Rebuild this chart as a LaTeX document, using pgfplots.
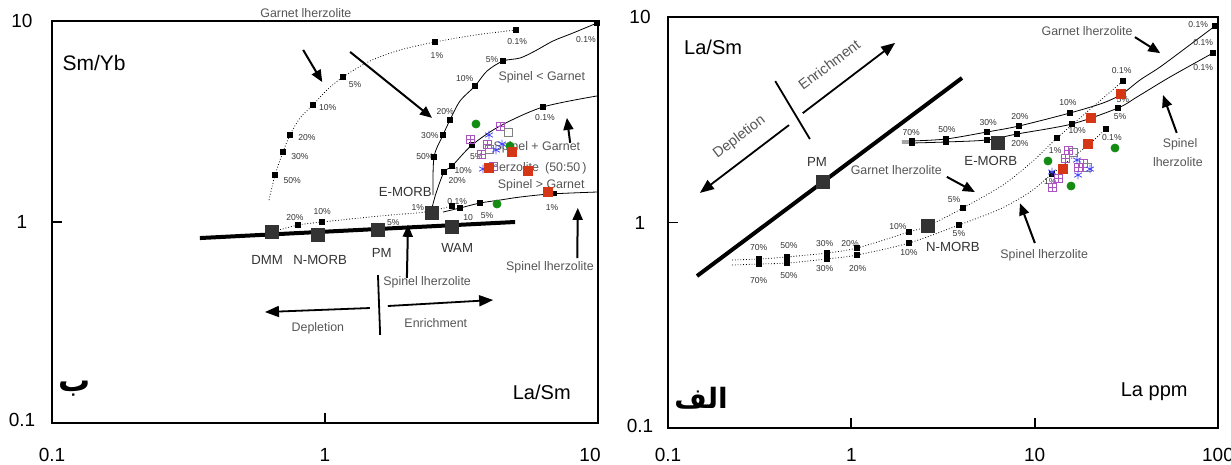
\documentclass[border=0pt]{standalone}
\usepackage{pgfplots}
\pgfplotsset{compat=1.18}
\usetikzlibrary{arrows.meta}
\usepackage{fontspec}
\setmainfont{Liberation Sans}
\newfontfamily\arabicfont[Script=Arabic]{DejaVu Sans}
\TeXXeTstate=1
\definecolor{redsq}{RGB}{212,54,22}
\definecolor{greendot}{RGB}{20,140,20}
\definecolor{purp}{RGB}{170,85,190}
\definecolor{blueast}{RGB}{70,70,255}
\definecolor{labgray}{RGB}{85,85,85}
\pgfplotsset{
 curvemk/.style={only marks, mark=square*, mark size=1.1pt, black},
 bigsq/.style={only marks, mark=square*, mark size=3.3pt, black!80, mark options={fill=black!80}},
 reds/.style={only marks, mark=square*, mark size=2.4pt, redsq, mark options={fill=redsq}},
 greens/.style={only marks, mark=*, mark size=2pt, greendot, mark options={fill=greendot}},
 purps/.style={only marks, mark=square, mark size=2pt, purp},
 purpx/.style={only marks, mark=+, mark size=2pt, purp},
 blues/.style={only marks, mark=asterisk, mark size=2.2pt, blueast},
 grays/.style={only marks, mark=square, mark size=2pt, gray},
}
\tikzset{
 lab/.style={font=\fontsize{6.2}{7}\selectfont, text=labgray, inner sep=0pt},
 mlab/.style={font=\fontsize{6.6}{8}\selectfont, text=black!80, inner sep=0pt},
 pct/.style={font=\fontsize{4.3}{5}\selectfont, text=black!80, inner sep=0pt},
 bigl/.style={font=\fontsize{10}{12}\selectfont, inner sep=0pt},
 arr/.style={line width=1pt, -{Triangle[length=6pt,width=5pt]}},
 arrb/.style={line width=0.9pt, -{Triangle[length=7pt,width=5.5pt]}},
}
\begin{document}
\begin{tikzpicture}
\path[use as bounding box] (0,0) rectangle (615.5pt,232.5pt);
% ---------------- LEFT ----------------
\begin{axis}[scale only axis, xmode=log, ymode=log, clip=false,
 at={(26pt,21pt)}, anchor=south west, width=273pt, height=201pt,
 axis line style={line width=0.9pt},
 tick align=inside, tick pos=left, major tick length=5pt,
 every tick/.style={line width=0.9pt, black},
 xminorticks=false, yminorticks=false,
 ymin=0.1, ymax=10, ytick={0.1,1,10}, yticklabels={\raisebox{3pt}{0.1},1,\raisebox{-2pt}{10}},
 xmin=0.1, xmax=10, xtick={0.1,1,10}, xticklabels={0.1,1,\hspace*{-8pt}10},
 tick label style={font=\fontsize{9.5}{11}\selectfont},
 xticklabel style={anchor=center, yshift=-16pt},
 yticklabel style={anchor=center, xshift=-15pt}]
\addplot[line width=2pt, black] coordinates {(0.348,0.832) (4.97,1.0)};
% garnet lherzolite dotted
\addplot[densely dotted, black, smooth] coordinates {(0.624,1.286) (0.656,1.713) (0.702,2.230) (0.744,2.710) (0.810,3.291) (0.904,3.821) (1.017,4.537) (1.164,5.265) (1.462,6.324) (1.883,7.173) (2.528,7.862) (3.544,8.516) (5.008,9.020)};
\addplot[curvemk] coordinates {(0.656,1.713) (0.702,2.230) (0.744,2.710) (0.904,3.821) (1.164,5.265) (2.528,7.862) (5.008,9.020)};
% spinel lherzolite dotted
\addplot[densely dotted, black, smooth] coordinates {(0.640,0.892) (0.796,0.966) (0.975,1.0) (1.343,1.047) (1.73,1.083) (2.324,1.121) (2.919,1.201)};
\addplot[curvemk] coordinates {(0.796,0.966) (0.975,1.0) (2.919,1.201)};
% spinel > garnet
\addplot[black, smooth] coordinates {(2.706,1.121) (3.123,1.174) (3.697,1.243) (4.375,1.286) (5.179,1.331) (6.671,1.378) (9.916,1.410)};
\addplot[curvemk] coordinates {(3.123,1.174) (3.697,1.243) (6.90,1.386)};
% spinel + garnet
\addplot[black, smooth] coordinates {(2.465,1.174) (2.552,1.394) (2.729,1.773) (2.919,1.899) (3.456,2.416) (4.375,3.003) (6.288,3.734) (9.916,4.237)};
\addplot[curvemk] coordinates {(2.729,1.773) (2.919,1.899) (3.456,2.416) (6.288,3.734)};
% spinel < garnet
\addplot[black, smooth] coordinates {(2.486,1.362) (2.508,2.106) (2.706,2.710) (2.870,3.218) (3.123,4.0) (3.544,4.750) (3.922,5.639) (4.487,6.324) (5.179,6.544) (5.878,7.091) (6.842,7.953) (8.098,8.716) (9.916,9.772)};
\addplot[curvemk] coordinates {(2.508,2.106) (2.706,2.710) (2.870,3.218) (3.544,4.750) (4.487,6.324) (9.916,9.772)};
% reservoirs
\addplot[bigsq] coordinates {(0.64,0.892) (0.943,0.862) (1.56,0.912) (2.92,0.944) (2.47,1.11)};
% samples
\addplot[greens] coordinates {(3.573,3.073) (4.761,2.388) (4.266,1.229)};
\addplot[purps] coordinates {(4.375,3.003) (3.397,2.588) (3.922,2.443) (3.728,2.180) (4.125,1.899)};
\addplot[purpx] coordinates {(4.375,3.003) (3.397,2.588) (3.922,2.443) (3.728,2.180) (4.125,1.899)};
\addplot[grays] coordinates {(4.681,2.804) (4.0,2.3)};
\addplot[blues] coordinates {(3.988,2.710) (4.23,2.281) (3.792,1.835) (4.45,2.443)};
\addplot[reds] coordinates {(4.842,2.230) (3.988,1.857) (5.541,1.794) (6.559,1.410)};
% texts
\node[inner sep=0pt, font=\fontsize{10.5}{12}\selectfont] at (rel axis cs:0.077,0.896) {Sm/Yb};
\node[bigl] at (rel axis cs:0.897,0.077) {La/Sm};
\node[font=\fontsize{16}{18}\selectfont\arabicfont\bfseries, inner sep=0pt] at (rel axis cs:0.042,0.085) {\beginR ب\endR};
\node[lab] at (rel axis cs:0.465,1.02) {Garnet lherzolite};
\node[lab] at (rel axis cs:0.897,0.861) {Spinel < Garnet};
\node[lab] at (rel axis cs:0.888,0.687) {Spinel + Garnet};
\node[lab] at (rel axis cs:0.890,0.634) {lherzolite\enspace(50:50\,)};
\node[lab] at (rel axis cs:0.896,0.592) {Spinel > Garnet};
\node[mlab] at (rel axis cs:0.647,0.575) {E-MORB};
\node[mlab] at (rel axis cs:0.394,0.405) {DMM};
\node[mlab] at (rel axis cs:0.491,0.405) {N-MORB};
\node[mlab] at (rel axis cs:0.604,0.423) {PM};
\node[mlab] at (rel axis cs:0.742,0.435) {WAM};
\node[lab] at (rel axis cs:0.687,0.351) {Spinel lherzolite};
\node[lab] at (rel axis cs:0.912,0.388) {Spinel lherzolite};
\node[lab] at (rel axis cs:0.487,0.236) {Depletion};
\node[lab] at (rel axis cs:0.703,0.249) {Enrichment};
% percentages
\node[pct] at (rel axis cs:0.440,0.604) {50\%};
\node[pct] at (rel axis cs:0.454,0.664) {30\%};
\node[pct] at (rel axis cs:0.467,0.709) {20\%};
\node[pct] at (rel axis cs:0.505,0.784) {10\%};
\node[pct] at (rel axis cs:0.555,0.841) {5\%};
\node[pct] at (rel axis cs:0.705,0.913) {1\%};
\node[pct] at (rel axis cs:0.852,0.948) {0.1\%};
\node[pct] at (rel axis cs:0.445,0.510) {20\%};
\node[pct] at (rel axis cs:0.495,0.525) {10\%};
\node[pct] at (rel axis cs:0.625,0.498) {5\%};
\node[pct] at (rel axis cs:0.670,0.537) {1\%};
\node[pct] at (rel axis cs:0.742,0.552) {0.1\%};
\node[pct] at (rel axis cs:0.762,0.510) {10};
\node[pct] at (rel axis cs:0.797,0.517) {5\%};
\node[pct] at (rel axis cs:0.916,0.535) {1\%};
\node[pct] at (rel axis cs:0.742,0.602) {20\%};
\node[pct] at (rel axis cs:0.753,0.627) {10\%};
\node[pct] at (rel axis cs:0.777,0.662) {5\%};
\node[pct] at (rel axis cs:0.903,0.759) {0.1\%};
\node[pct] at (rel axis cs:0.683,0.662) {50\%};
\node[pct] at (rel axis cs:0.692,0.716) {30\%};
\node[pct] at (rel axis cs:0.720,0.774) {20\%};
\node[pct] at (rel axis cs:0.756,0.856) {10\%};
\node[pct] at (rel axis cs:0.806,0.903) {5\%};
\node[pct] at (rel axis cs:0.978,0.953) {0.1\%};
% arrows
\draw[arr] (rel axis cs:0.460,0.928) -- (rel axis cs:0.495,0.848);
\draw[arr] (rel axis cs:0.546,0.923) -- (rel axis cs:0.696,0.759);
\draw[arr] (rel axis cs:0.949,0.697) -- (rel axis cs:0.943,0.759);
\draw[arr] (rel axis cs:0.962,0.410) -- (rel axis cs:0.963,0.535);
\draw[arr] (rel axis cs:0.650,0.361) -- (rel axis cs:0.652,0.493);
\draw[arrb] (rel axis cs:0.582,0.286) -- (rel axis cs:0.390,0.276);
\draw[arrb] (rel axis cs:0.615,0.291) -- (rel axis cs:0.808,0.306);
\draw[line width=0.9pt] (rel axis cs:0.597,0.368) -- (rel axis cs:0.601,0.219);
\end{axis}
% ---------------- RIGHT ----------------
\begin{axis}[scale only axis, xmode=log, ymode=log, clip=false,
 at={(334pt,18.5pt)}, anchor=south west, width=275pt, height=205.5pt,
 axis line style={line width=0.9pt},
 tick align=inside, tick pos=left, major tick length=5pt,
 every tick/.style={line width=0.9pt, black},
 xminorticks=false, yminorticks=false,
 ymin=0.1, ymax=10, ytick={0.1,1,10}, yticklabels={\raisebox{2pt}{0.1},1,\raisebox{-1pt}{10}},
 xmin=0.1, xmax=100, xtick={0.1,1,10,100}, xticklabels={0.1,1,10,100},
 tick label style={font=\fontsize{9.5}{11}\selectfont},
 xticklabel style={anchor=center, yshift=-13.5pt},
 yticklabel style={anchor=center, xshift=-14pt}]
\addplot[line width=2pt, black] coordinates {(0.1439,0.549) (4.016,5.05)};
% garnet lherzolite (solid, upper)
\addplot[black, smooth] coordinates {(1.889,2.493) (2.142,2.493) (3.284,2.549) (5.495,2.757) (8.216,2.949) (15.58,3.411) (23.59,3.815) (29.95,4.220) (37.54,4.936) (48.28,5.709) (67.76,7.145) (96.3,9.04)};
\addplot[curvemk] coordinates {(2.142,2.493) (3.284,2.549) (5.495,2.757) (8.216,2.949) (15.58,3.411) (29.95,4.220) (96.3,9.04)};
% spinel lherzolite (solid, lower)
\addplot[black, smooth] coordinates {(1.889,2.437) (2.142,2.437) (3.284,2.465) (5.495,2.521) (8.013,2.696) (15.98,3.016) (28.48,3.608) (36.15,4.081) (54.73,5.105) (93.9,6.68)};
\addplot[curvemk] coordinates {(2.142,2.437) (3.284,2.465) (5.495,2.521) (8.013,2.696) (15.98,3.016) (28.48,3.608) (93.9,6.68)};
% garnet lherzolite dotted
\addplot[densely dotted, black, smooth] coordinates {(0.2234,0.657) (0.3137,0.6645) (0.4459,0.6796) (0.7368,0.7105) (1.074,0.7515) (2.063,0.899) (2.619,0.9616) (4.066,1.177) (6.718,1.522) (9.795,1.992) (13.24,2.577) (19.54,3.487) (30.33,4.881)};
\addplot[curvemk] coordinates {(0.3137,0.6645) (0.4459,0.6796) (0.7368,0.7105) (1.074,0.7515) (2.063,0.899) (4.066,1.177) (13.24,2.577) (30.33,4.881)};
% spinel lherzolite dotted
\addplot[densely dotted, black, smooth] coordinates {(0.2234,0.621) (0.3137,0.628) (0.4459,0.635) (0.7368,0.6645) (1.074,0.6947) (2.063,0.7947) (3.867,0.9723) (6.471,1.163) (9.433,1.407) (12.43,1.722) (19.54,2.383) (24.5,2.851)};
\addplot[curvemk] coordinates {(0.3137,0.628) (0.4459,0.635) (0.7368,0.6645) (1.074,0.6947) (2.063,0.7947) (3.867,0.9723) (12.43,1.722) (24.5,2.851)};
% reservoirs
\addplot[bigsq] coordinates {(0.7005,1.574) (6.31,2.437) (2.619,0.9616)};
% samples
\addplot[greens] coordinates {(27.43,2.304) (11.82,1.992) (15.79,1.505)};
\addplot[purps] coordinates {(14.64,2.060) (15.2,2.253) (17.24,1.862) (13.41,1.646) (12.43,1.488) (18.34,1.948)};
\addplot[purpx] coordinates {(14.64,2.060) (15.2,2.253) (17.24,1.862) (13.41,1.646) (12.43,1.488) (18.34,1.948)};
\addplot[grays] coordinates {(16.18,2.203) (19.3,1.862)};
\addplot[blues] coordinates {(17.02,2.014) (17.24,1.702) (20.04,1.820) (12.43,1.761)};
\addplot[reds] coordinates {(29.57,4.220) (20.29,3.225) (19.54,2.410) (14.27,1.820)};
% texts
\node[bigl] at (rel axis cs:0.082,0.925) {La/Sm};
\node[bigl] at (rel axis cs:0.884,0.088) {La ppm};
\node[font=\fontsize{14}{16}\selectfont\arabicfont\bfseries, inner sep=0pt] at (rel axis cs:0.060,0.072) {\beginR الف\endR};
\node[lab, font=\fontsize{7.2}{8}\selectfont, rotate=37] at (rel axis cs:0.293,0.884) {Enrichment};
\node[lab, font=\fontsize{7.2}{8}\selectfont, rotate=37] at (rel axis cs:0.130,0.708) {Depletion};
\node[mlab] at (rel axis cs:0.271,0.647) {PM};
\node[lab] at (rel axis cs:0.415,0.628) {Garnet lherzolite};
\node[mlab] at (rel axis cs:0.587,0.650) {E-MORB};
\node[mlab] at (rel axis cs:0.518,0.440) {N-MORB};
\node[lab] at (rel axis cs:0.684,0.421) {Spinel lherzolite};
\node[lab] at (rel axis cs:0.762,0.966) {Garnet lherzolite};
\node[lab] at (rel axis cs:0.931,0.691) {Spinel};
\node[lab] at (rel axis cs:0.927,0.647) {lherzolite};
% percentages
\node[pct] at (rel axis cs:0.442,0.718) {70\%};
\node[pct] at (rel axis cs:0.507,0.725) {50\%};
\node[pct] at (rel axis cs:0.582,0.742) {30\%};
\node[pct] at (rel axis cs:0.640,0.757) {20\%};
\node[pct] at (rel axis cs:0.727,0.791) {10\%};
\node[pct] at (rel axis cs:0.827,0.798) {5\%};
\node[pct] at (rel axis cs:0.640,0.691) {20\%};
\node[pct] at (rel axis cs:0.744,0.723) {10\%};
\node[pct] at (rel axis cs:0.822,0.757) {5\%};
\node[pct] at (rel axis cs:0.964,0.981) {0.1\%};
\node[pct] at (rel axis cs:0.973,0.937) {0.1\%};
\node[pct] at (rel axis cs:0.973,0.876) {0.1\%};
\node[pct] at (rel axis cs:0.165,0.438) {70\%};
\node[pct] at (rel axis cs:0.220,0.445) {50\%};
\node[pct] at (rel axis cs:0.285,0.450) {30\%};
\node[pct] at (rel axis cs:0.331,0.450) {20\%};
\node[pct] at (rel axis cs:0.418,0.489) {10\%};
\node[pct] at (rel axis cs:0.520,0.557) {5\%};
\node[pct] at (rel axis cs:0.704,0.676) {1\%};
\node[pct] at (rel axis cs:0.825,0.869) {0.1\%};
\node[pct] at (rel axis cs:0.165,0.358) {70\%};
\node[pct] at (rel axis cs:0.220,0.372) {50\%};
\node[pct] at (rel axis cs:0.285,0.387) {30\%};
\node[pct] at (rel axis cs:0.345,0.387) {20\%};
\node[pct] at (rel axis cs:0.438,0.426) {10\%};
\node[pct] at (rel axis cs:0.529,0.472) {5\%};
\node[pct] at (rel axis cs:0.695,0.599) {1\%};
\node[pct] at (rel axis cs:0.807,0.706) {0.1\%};
% arrows
\draw[arrb] (rel axis cs:0.245,0.766) -- (rel axis cs:0.413,0.937);
\draw[arrb] (rel axis cs:0.220,0.737) -- (rel axis cs:0.058,0.572);
\draw[line width=0.9pt] (rel axis cs:0.195,0.844) -- (rel axis cs:0.258,0.703);
\draw[arr] (rel axis cs:0.849,0.951) -- (rel axis cs:0.895,0.912);
\draw[arr] (rel axis cs:0.925,0.718) -- (rel axis cs:0.900,0.810);
\draw[arr] (rel axis cs:0.507,0.611) -- (rel axis cs:0.558,0.574);
\draw[arr] (rel axis cs:0.667,0.450) -- (rel axis cs:0.640,0.547);
\end{axis}
\end{tikzpicture}
\end{document}
